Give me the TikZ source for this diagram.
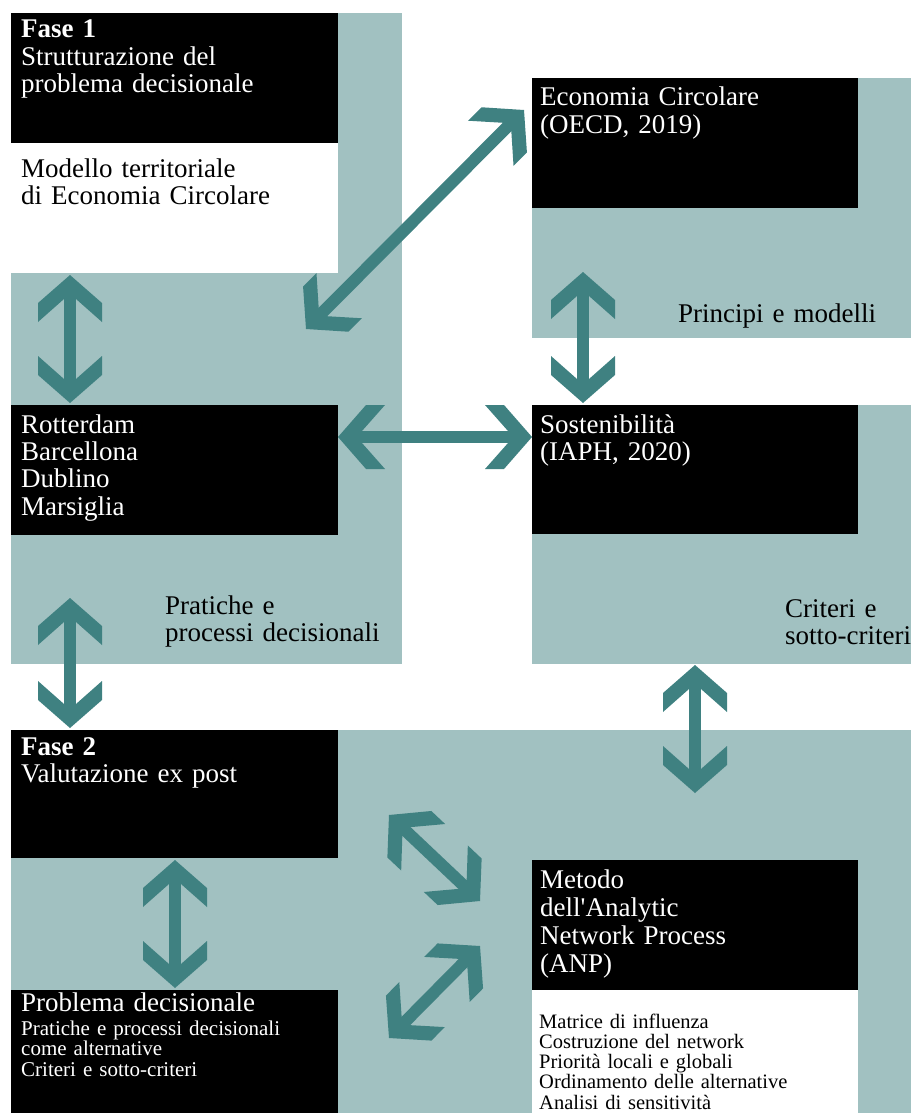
\documentclass[tikz,border=0pt]{standalone}
\usepackage{fontspec}
\setmainfont{Liberation Serif}
\usetikzlibrary{calc,arrows.meta}

\definecolor{panel}{RGB}{161,193,193}
\definecolor{link}{RGB}{63,129,129}

% open chevron head with square-cut arms, filled
\pgfdeclarearrow{
  name = Chevron,
  setup code = {
    \pgfarrowssettipend{0pt}
    \pgfarrowssetlineend{-20pt}
    \pgfarrowssetvisualbackend{-24pt}
    \pgfarrowssetbackend{-47pt}
    \pgfarrowshullpoint{0pt}{0pt}
    \pgfarrowsupperhullpoint{-28pt}{32pt}
    \pgfarrowsupperhullpoint{-47pt}{32pt}
  },
  drawing code = {
    \pgfsetfillcolor{link}
    \pgfpathmoveto{\pgfpointorigin}
    \pgfpathlineto{\pgfpoint{-28pt}{32pt}}
    \pgfpathlineto{\pgfpoint{-47pt}{32pt}}
    \pgfpathlineto{\pgfpoint{-24pt}{6pt}}
    \pgfpathlineto{\pgfpoint{-24pt}{-6pt}}
    \pgfpathlineto{\pgfpoint{-47pt}{-32pt}}
    \pgfpathlineto{\pgfpoint{-28pt}{-32pt}}
    \pgfpathclose
    \pgfusepathqfill
  },
}

\tikzset{
  blackbox/.style={fill=black, inner sep=0pt, outer sep=0pt, anchor=north west},
  whitebox/.style={fill=white, inner sep=0pt, outer sep=0pt, anchor=north west},
  big/.style={font=\fontsize{27}{27.4}\selectfont},
  boxtxt/.style={anchor=base west, inner sep=0pt, text width=310pt, align=left, text=white, big},
  paneltxt/.style={anchor=base west, inner sep=0pt, text width=250pt, align=left, text=black, big},
  biarrow/.style={draw=link, line width=12pt, arrows={Chevron-Chevron}},
}

\begin{document}
\begin{tikzpicture}[x=1pt,y=-1pt]
\useasboundingbox (0,0) rectangle (911,1113);

% light panels
\fill[panel] (11,13) rectangle (402,664);
\fill[panel] (532,78) rectangle (911,338);
\fill[panel] (532,405) rectangle (911,664);
\fill[panel] (11,730) rectangle (911,1113);

% boxes
\node[blackbox, minimum width=327pt, minimum height=130pt] (fase1) at (11,13) {};
\node[whitebox, minimum width=327pt, minimum height=130pt] (modw) at (11,143) {};
\node[blackbox, minimum width=327pt, minimum height=130pt] (rot) at (11,405) {};
\node[blackbox, minimum width=326pt, minimum height=130pt] (eco) at (532,78) {};
\node[blackbox, minimum width=326pt, minimum height=129pt] (sost) at (532,405) {};
\node[blackbox, minimum width=327pt, minimum height=128pt] (fase2) at (11,730) {};
\node[blackbox, minimum width=327pt, minimum height=123pt] (prob) at (11,990) {};
\node[blackbox, minimum width=326pt, minimum height=130pt] (anp) at (532,860) {};
\node[whitebox, minimum width=326pt, minimum height=123pt] (anpw) at (532,990) {};

% box texts
\node[boxtxt] (t-fase1) at (21,38) {\textbf{Fase 1}\\Strutturazione del\\problema decisionale};
\node[boxtxt, text=black] (t-mod) at (21,177) {Modello territoriale\\di Economia Circolare};
\node[boxtxt] (t-rot) at (21,433) {Rotterdam\\Barcellona\\Dublino\\Marsiglia};
\node[boxtxt] (t-eco) at (540,106) {Economia Circolare\\(OECD, 2019)};
\node[boxtxt] (t-sost) at (540,433) {Sostenibilità\\(IAPH, 2020)};
\node[boxtxt] (t-fase2) at (21,755) {\textbf{Fase 2}\\Valutazione ex post};
\node[boxtxt] (t-prob) at (21,1011) {Problema decisionale};
\node[boxtxt, font=\fontsize{21}{20.6}\selectfont] (t-probsub) at (21,1035)
  {Pratiche e processi decisionali\\come alternative\\Criteri e sotto-criteri};
\node[boxtxt, font=\fontsize{27}{28.2}\selectfont] (t-anp) at (540,888)
  {Metodo\\dell\textquotesingle Analytic\\Network Process\\(ANP)};
\node[boxtxt, text=black, font=\fontsize{20.5}{20.3}\selectfont] (t-anpw) at (539,1028)
  {Matrice di influenza\\Costruzione del network\\Priorità locali e globali\\Ordinamento delle alternative\\Analisi di sensitività};

% panel captions
\node[paneltxt] (c-princ) at (678,322) {Principi e modelli};
\node[paneltxt] (c-prat) at (165,614) {Pratiche e\\processi decisionali};
\node[paneltxt] (c-crit) at (785,617) {Criteri e\\sotto-criteri};

% connectors
\draw[biarrow] ($(modw.south west)+(59,2)$) -- ($(rot.north west)+(59,-2)$);
\draw[biarrow] ($(rot.north west)+(295,-76)$) -- ($(eco.north west)+(-8,32)$);
\draw[biarrow] ($(rot.north east)+(0,32)$) -- ($(sost.north west)+(0,32)$);
\draw[biarrow] ($(eco.south west)+(51,64)$) -- ($(sost.north west)+(51,-2)$);
\draw[biarrow] ($(rot.south west)+(59,63)$) -- ($(fase2.north west)+(59,-2)$);
\draw[biarrow] ($(sost.south west)+(163,131)$) -- ($(anp.north west)+(163,-67)$);
\draw[biarrow] ($(fase2.south west)+(164,2)$) -- ($(prob.north west)+(164,-2)$);
\draw[biarrow] ($(fase2.north east)+(51,85)$) -- ($(anp.north west)+(-52,41)$);
\draw[biarrow] ($(anp.north west)+(-52,86)$) -- ($(prob.north east)+(51,48)$);
\end{tikzpicture}
\end{document}
